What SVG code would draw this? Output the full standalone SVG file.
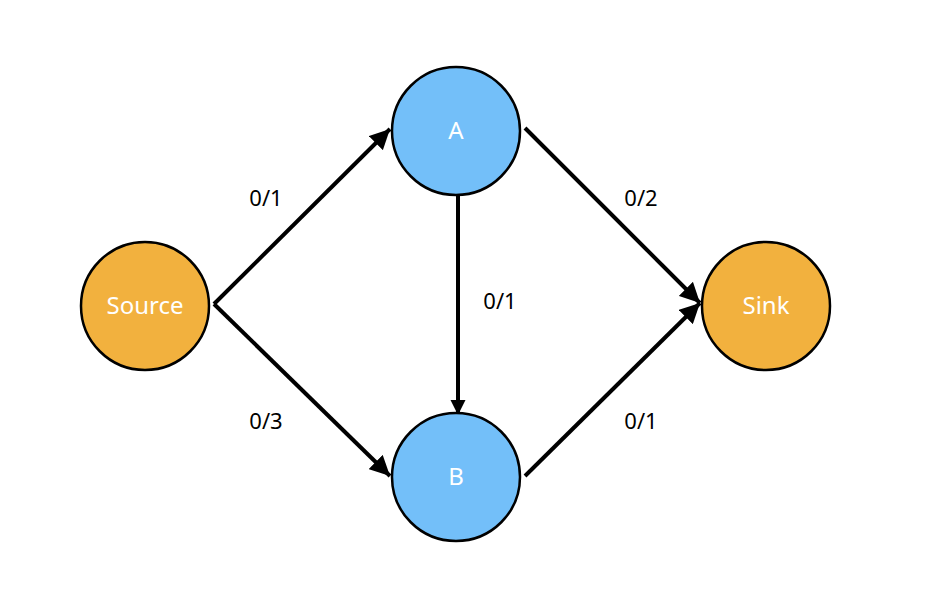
<svg xmlns="http://www.w3.org/2000/svg" width="926" height="608" viewBox="0 0 926 608">
<style>
.n{stroke:#000;stroke-width:2.5}
.s{fill:#F2B13E}.b{fill:#73BFF9}
.t{font-family:"Noto Sans","Liberation Sans",sans-serif;font-size:24px;fill:#fff;text-anchor:middle}
.l{font-family:"Noto Sans","Liberation Sans",sans-serif;font-size:22px;fill:#000;text-anchor:middle}
.e{stroke:#000;stroke-width:4;fill:none}
</style>
<defs><marker id="ar" viewBox="0 0 10 10" refX="10" refY="5" markerWidth="5" markerHeight="5" markerUnits="strokeWidth" orient="auto"><path d="M0,0L10,5L0,10z" fill="#000"/></marker>
<marker id="ar2" viewBox="0 0 10 10" refX="10" refY="5" markerWidth="3.8" markerHeight="3.8" markerUnits="strokeWidth" orient="auto"><path d="M0,0L10,5L0,10z" fill="#000"/></marker></defs>
<g id="connectors">
<line class="e" x1="214" y1="304" x2="390" y2="129" marker-end="url(#ar)"/>
<line class="e" x1="214" y1="304" x2="390" y2="476" marker-end="url(#ar)"/>
<line class="e" x1="458" y1="195" x2="458" y2="415" stroke-width="6" marker-end="url(#ar2)"/>
<line class="e" x1="525" y1="128" x2="700" y2="303" marker-end="url(#ar)"/>
<line class="e" x1="525" y1="476" x2="700" y2="303" marker-end="url(#ar)"/>
<text class="l" x="266" y="206">0/1</text>
<text class="l" x="266" y="429">0/3</text>
<text class="l" x="500" y="309">0/1</text>
<text class="l" x="641" y="206">0/2</text>
<text class="l" x="641" y="429">0/1</text>
</g>
<g id="source"><circle class="n s" cx="145" cy="306" r="64"/><text class="t" x="145" y="314">Source</text></g>
<g id="A"><circle class="n b" cx="456" cy="131" r="64"/><text class="t" x="456" y="139">A</text></g>
<g id="B"><circle class="n b" cx="456" cy="477" r="64"/><text class="t" x="456" y="485">B</text></g>
<g id="sink"><circle class="n s" cx="766" cy="306" r="64"/><text class="t" x="766" y="314">Sink</text></g>
</svg>
